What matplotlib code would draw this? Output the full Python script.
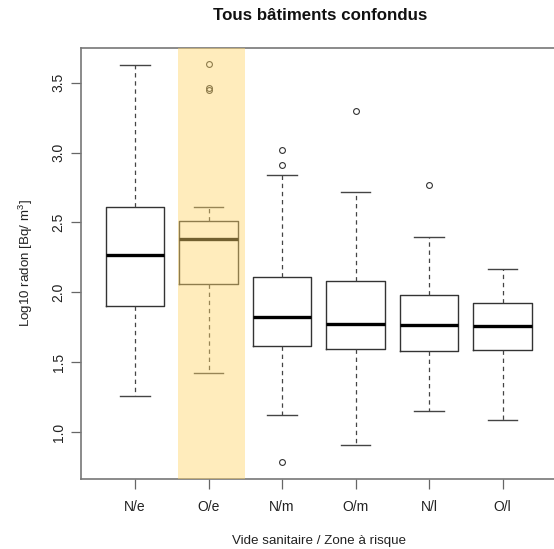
import matplotlib
matplotlib.use("Agg")
import matplotlib.pyplot as plt

plt.rcParams['font.family'] = ['Liberation Sans', 'DejaVu Sans']
plt.rcParams['mathtext.fontset'] = 'custom'
plt.rcParams['mathtext.rm'] = 'Liberation Sans'
plt.rcParams['mathtext.it'] = 'Liberation Sans'

# values (log10 radon)
groups = ["N/e", "O/e", "N/m", "O/m", "N/l", "O/l"]
whislo = [1.256, 1.423, 1.120, 0.909, 1.154, 1.087]
q1 = [1.904, 2.059, 1.618, 1.594, 1.580, 1.587]
med = [2.270, 2.380, 1.823, 1.773, 1.766, 1.761]
q3 = [2.613, 2.513, 2.109, 2.084, 1.977, 1.923]
whishi = [3.625, 2.609, 2.839, 2.716, 2.399, 2.168]
fliers = [[], [3.63, 3.463, 3.446], [3.016, 2.909, 0.787], [3.294], [2.766], []]

# highlighted group
band = (1.58, 2.5)

stats = []
for i in range(len(groups)):
    stats.append(dict(label=groups[i], whislo=whislo[i], q1=q1[i], med=med[i],
                      q3=q3[i], whishi=whishi[i], fliers=fliers[i]))

fig = plt.figure(figsize=(5.54, 5.49), dpi=100)
ax = fig.add_axes([81 / 554, 1 - 479 / 549, 476 / 554, 431.3 / 549])

ax.bxp(stats, positions=range(1, 7), widths=0.8, showfliers=True,
       boxprops=dict(color='#333333', linewidth=1.0),
       medianprops=dict(color='black', linewidth=2.4, solid_capstyle='butt'),
       whiskerprops=dict(color='#444444', linewidth=0.9, linestyle=(0, (3.5, 3))),
       capprops=dict(color='#444444', linewidth=1.0),
       capwidths=0.4,
       flierprops=dict(marker='o', markersize=4.2, markerfacecolor='none',
                       markeredgecolor='#333333', markeredgewidth=0.8))

ax.axvspan(band[0], band[1], color=(1.0, 0.84, 0.42), alpha=0.45, lw=0, zorder=5)

ax.set_xlim(0.265, 6.74)
ax.set_ylim(0.664, 3.75)
ax.set_yticks([1.0, 1.5, 2.0, 2.5, 3.0, 3.5])
ax.set_yticklabels(['1.0', '1.5', '2.0', '2.5', '3.0', '3.5'], rotation=90, va='center')
ax.set_xticks(range(1, 7))
ax.set_xticklabels(groups)
ax.tick_params(axis='both', length=7, width=0.9, color='#666666', labelsize=10,
               labelcolor='#222222')
ax.tick_params(axis='x', pad=8)
ax.tick_params(axis='y', pad=4)

for s in ax.spines.values():
    s.set_color('#777777')
    s.set_linewidth(1.2)

ax.set_xlabel('Vide sanitaire / Zone à risque', fontsize=9.6, color='#222222', labelpad=15)
ax.set_ylabel('Log10 radon [Bq/ m$^{3}$]', fontsize=9.6, color='#222222', labelpad=12)
fig.text(320 / 554, 1 - 16 / 549, 'Tous bâtiments confondus', ha='center', va='center',
         fontsize=12.2, fontweight='bold', color='#111111')

fig.savefig('out.png', dpi=100)
